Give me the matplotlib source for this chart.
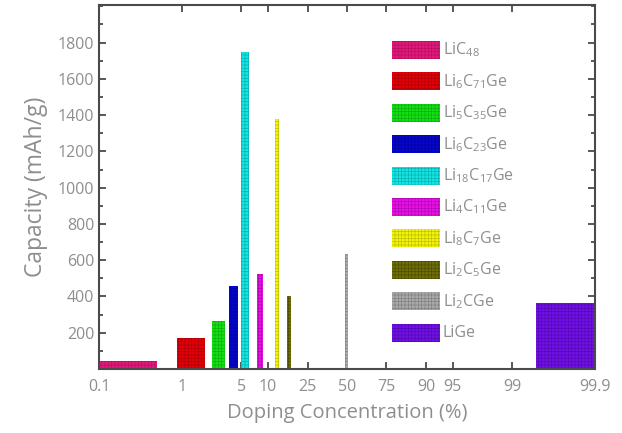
import numpy as np
import matplotlib
matplotlib.use("Agg")
import matplotlib.pyplot as plt
from matplotlib.patches import Rectangle
from matplotlib.ticker import MultipleLocator, FixedLocator

# ---- data ----
labels = [r"LiC$_{48}$", r"Li$_6$C$_{71}$Ge", r"Li$_5$C$_{35}$Ge", r"Li$_6$C$_{23}$Ge",
          r"Li$_{18}$C$_{17}$Ge", r"Li$_4$C$_{11}$Ge", r"Li$_8$C$_7$Ge", r"Li$_2$C$_5$Ge",
          r"Li$_2$CGe", "LiGe"]
dop_left = [0.1, 0.87, 2.25, 3.58, 4.93, 7.62, 11.76, 15.95, 48.5, 99.48]
dop_right = [0.5, 1.87, 3.24, 4.64, 6.07, 8.79, 13.07, 17.2, 50.6, 99.9]
capacity = [44, 170, 267, 459, 1750, 523, 1378, 403, 634, 365]
colors = ["#E3187B", "#E00008", "#12E012", "#0505CC", "#12E3E3",
          "#E60FE6", "#F2F20A", "#6E6E05", "#A8A8A8", "#7010E6"]
edge_colors = ["#B0105E", "#A80006", "#0BA80B", "#03039A", "#0BAAAA",
               "#AA08AA", "#B8B805", "#4A4A02", "#7C7C7C", "#5008AA"]
xtick_vals = [0.1, 1, 5, 10, 25, 50, 75, 90, 95, 99, 99.9]
xtick_labels = ["0.1", "1", "5", "10", "25", "50", "75", "90", "95", "99", "99.9"]
ytick_vals = [200, 400, 600, 800, 1000, 1200, 1400, 1600, 1800]

plt.rcParams["font.family"] = ["Open Sans", "DejaVu Sans"]
plt.rcParams["mathtext.fontset"] = "custom"
plt.rcParams["mathtext.rm"] = "Open Sans"
plt.rcParams["mathtext.it"] = "Open Sans"
plt.rcParams["hatch.linewidth"] = 0.4

TXT = "#8e8e8e"
SP = "#4a4a4a"

W, H = 622, 433
fig = plt.figure(figsize=(W / 100, H / 100), dpi=100)
ax = fig.add_axes([99 / W, 1 - 369 / H, (595 - 99) / W, (369 - 4.5) / H])

fwd = lambda x: np.log(np.asarray(x) / (100 - np.asarray(x)))
inv = lambda y: 100 / (1 + np.exp(-np.asarray(y)))
ax.set_xscale("function", functions=(fwd, inv))
ax.set_xlim(0.1, 99.9)
ax.set_ylim(0, 2010)

HATCH = "+++++"
for l, r, c, fc, ec in zip(dop_left, dop_right, capacity, colors, edge_colors):
    ax.bar(l, c, width=r - l, align="edge", color=fc, edgecolor=ec,
           hatch=HATCH, linewidth=0, zorder=2)

ax.xaxis.set_major_locator(FixedLocator(xtick_vals))
ax.set_xticklabels(xtick_labels)
ax.xaxis.set_minor_locator(FixedLocator([]))
ax.set_yticks(ytick_vals)
ax.yaxis.set_minor_locator(MultipleLocator(100))

ax.tick_params(axis="both", which="both", direction="in", top=True, right=True,
               colors=SP, labelcolor=TXT, labelsize=11.5, width=1.3)
ax.tick_params(axis="both", which="major", length=5)
ax.tick_params(axis="both", which="minor", length=3)
ax.tick_params(axis="x", pad=7)
for s in ax.spines.values():
    s.set_color(SP)
    s.set_linewidth(1.5)

ax.set_ylabel("Capacity (mAh/g)", fontsize=16.5, color=TXT, labelpad=7)
ax.set_xlabel("Doping Concentration (%)", fontsize=14.5, color=TXT, labelpad=6)

# manual legend (figure pixel coordinates)
for i, (lab, fc, ec) in enumerate(zip(labels, colors, edge_colors)):
    yc = 50 + 31.4 * i
    rect = Rectangle((392 / W, 1 - (yc + 9) / H), 48 / W, 18 / H,
                     transform=fig.transFigure, facecolor=fc, edgecolor=ec,
                     hatch=HATCH, linewidth=0)
    fig.add_artist(rect)
    fig.text(443 / W, 1 - yc / H, lab, fontsize=11.5, color=TXT,
             ha="left", va="center")

fig.savefig("out.png", dpi=100)
